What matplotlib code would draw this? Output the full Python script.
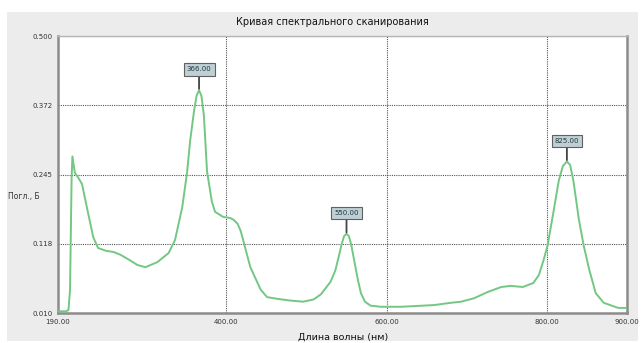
import matplotlib.pyplot as plt
from matplotlib.patches import Rectangle

# Scan curve: wavelength (nm) vs absorbance
wavelength = [190, 200, 203, 205, 206, 207, 208, 211, 215, 220, 226, 234, 240, 250, 259,
              268, 280, 289, 299, 314, 328, 336, 345, 351, 355, 360, 363, 366, 369, 372,
              376, 382, 386, 396, 405, 409, 414, 418, 430, 443, 451, 464, 480, 496, 509,
              518, 530, 536, 540, 544, 547, 550, 553, 556, 560, 564, 568, 573, 580, 593,
              618, 659, 680, 693, 709, 726, 743, 755, 770, 783, 790, 796, 801, 808, 815,
              820, 825, 829, 833, 840, 846, 853, 861, 871, 889, 900]
absorbance = [0.013, 0.013, 0.015, 0.05, 0.15, 0.25, 0.287, 0.258, 0.25, 0.238, 0.197, 0.144,
              0.125, 0.12, 0.118, 0.113, 0.103, 0.095, 0.091, 0.100, 0.116, 0.139, 0.197,
              0.258, 0.316, 0.37, 0.395, 0.404, 0.394, 0.36, 0.26, 0.207, 0.189, 0.180,
              0.178, 0.175, 0.168, 0.155, 0.091, 0.051, 0.038, 0.035, 0.032, 0.030, 0.034,
              0.043, 0.065, 0.085, 0.108, 0.132, 0.146, 0.150, 0.146, 0.130, 0.100, 0.070,
              0.045, 0.030, 0.023, 0.021, 0.021, 0.024, 0.028, 0.030, 0.036, 0.047, 0.056,
              0.058, 0.056, 0.063, 0.077, 0.104, 0.130, 0.187, 0.245, 0.270, 0.278, 0.272,
              0.245, 0.175, 0.129, 0.086, 0.045, 0.028, 0.019, 0.019]

peaks = [366, 550, 825]
peak_values = [0.404, 0.150, 0.278]

x_ticks = [190, 400, 600, 800, 900]
x_labels = ["190.00", "400.00", "600.00", "800.00", "900.00"]
y_labels = ["0.010", "0.118", "0.245", "0.372", "0.500"]
y_min, y_max = 0.010, 0.500

W, H = 643, 343
fig = plt.figure(figsize=(W / 100, H / 100), dpi=100)
fig.patch.set_facecolor("white")
fig.patches.append(Rectangle((7 / W, 1 - 341 / H), 631 / W, 329 / H,
                             transform=fig.transFigure, facecolor="#ececec",
                             edgecolor="none", zorder=-1))

ax = fig.add_axes([58 / W, 1 - 313 / H, 569 / W, 277 / H])
ax.set_zorder(1)
ax.set_facecolor("white")

ax.plot(wavelength, absorbance, color="#72c882", lw=1.4, zorder=3)

ax.set_xlim(190, 900)
ax.set_ylim(y_min, y_max)
ax.set_xticks(x_ticks)
ax.set_xticklabels(x_labels, fontsize=5, color="#333333")
step = (y_max - y_min) / (len(y_labels) - 1)
ax.set_yticks([y_min + i * step for i in range(len(y_labels))])
ax.set_yticklabels(y_labels, fontsize=5, color="#333333")
ax.tick_params(length=0, pad=4)

ax.grid(True, color="#555555", lw=0.8, linestyle=(0, (1, 1)))
ax.set_axisbelow(True)

for side in ["left", "bottom", "right"]:
    ax.spines[side].set_color("#8c8c8c")
    ax.spines[side].set_linewidth(1.8)
ax.spines["top"].set_color("#b5b5b5")
ax.spines["top"].set_linewidth(1.0)

for p, v in zip(peaks, peak_values):
    ax.annotate(f"{p:.2f}", xy=(p, v), xytext=(0, 15), textcoords="offset points",
                ha="center", va="center", fontsize=5, color="#1f3a40",
                bbox=dict(boxstyle="square,pad=0.45", facecolor="#bfcfd3",
                          edgecolor="#606060", lw=0.8),
                arrowprops=dict(arrowstyle="-", color="#444444", lw=1.3,
                                shrinkA=0, shrinkB=1),
                zorder=5)

fig.text(332 / W, 1 - 22 / H, "Кривая спектрального сканирования",
         ha="center", va="center", fontsize=7, color="#111111")
fig.text(8 / W, 1 - 196 / H, "Погл., Б", ha="left", va="center",
         fontsize=5.5, color="#333333")
fig.text(343 / W, 1 - 337 / H, "Длина волны (нм)", ha="center", va="center",
         fontsize=6.8, color="#111111")

fig.savefig("out.png", dpi=100)
